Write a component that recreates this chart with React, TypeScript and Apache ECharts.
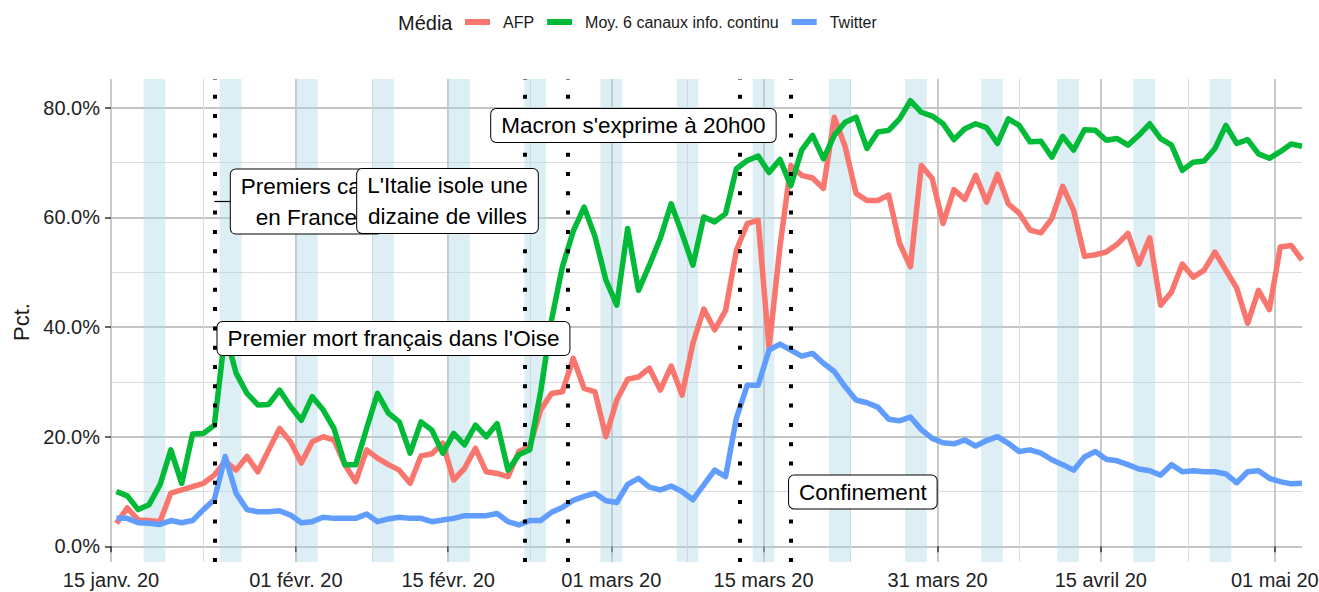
import React, { useEffect, useRef } from "react";
import * as echarts from "echarts";

// ---- data -------------------------------------------------------------
const startDate = "2020-01-15"; // first day of the series (points drawn at noon)

const afp = [
  4.2, 7.0, 4.8, 4.7, 4.5, 9.7, 10.3, 10.9, 11.5, 13.0,
  15.5, 13.9, 16.4, 13.6, 17.6, 21.5, 19.1, 15.2, 19.1, 20.0,
  19.4, 14.9, 11.8, 17.6, 16.1, 14.9, 13.9, 11.5, 16.5, 16.9,
  18.8, 12.1, 14.2, 17.9, 13.6, 13.3, 12.7, 17.3, 18.2, 24.9,
  27.9, 28.2, 34.3, 28.8, 28.2, 20.0, 26.7, 30.5, 30.9, 32.5,
  28.5, 32.9, 27.6, 37.0, 43.3, 39.5, 43.0, 54.0, 58.9, 59.5,
  36.2, 54.6, 69.5, 67.7, 67.2, 65.3, 78.3, 72.9, 64.4, 63.1,
  63.1, 64.1, 55.3, 51.0, 69.5, 67.1, 58.9, 65.1, 63.3, 67.7,
  62.8, 67.9, 62.5, 60.8, 57.7, 57.2, 59.8, 65.7, 61.3, 52.9,
  53.2, 53.7, 55.1, 57.1, 51.5, 56.3, 44.0, 46.4, 51.5, 49.1,
  50.4, 53.7, 50.4, 47.1, 40.7, 46.7, 43.2, 54.6, 54.9, 52.2,
];

const infoContinu = [
  10.0, 9.2, 6.7, 7.6, 11.2, 17.6, 11.5, 20.5, 20.6, 22.1,
  39.0, 31.6, 27.9, 25.8, 25.9, 28.5, 25.5, 23.0, 27.3, 24.9,
  21.5, 14.9, 14.9, 21.5, 27.9, 24.3, 22.7, 17.0, 22.7, 21.2,
  17.0, 20.6, 18.5, 22.1, 20.0, 22.4, 13.9, 16.7, 17.6, 28.2,
  41.3, 51.0, 57.5, 61.9, 56.5, 48.6, 44.0, 58.0, 46.7, 51.3,
  56.2, 62.5, 57.1, 51.3, 60.1, 59.2, 60.7, 68.9, 70.4, 71.2,
  68.2, 70.6, 65.8, 72.3, 75.0, 70.7, 75.0, 77.4, 78.3, 72.6,
  75.6, 75.9, 78.0, 81.3, 79.2, 78.5, 77.1, 74.2, 76.2, 77.1,
  76.4, 73.5, 78.0, 76.8, 73.8, 73.9, 71.0, 74.8, 72.3, 76.0,
  75.9, 74.1, 74.4, 73.2, 75.0, 77.1, 74.4, 73.2, 68.6, 70.1,
  70.3, 72.6, 76.8, 73.5, 74.2, 71.6, 70.8, 72.0, 73.4, 73.0,
];

const twitter = [
  5.1, 5.1, 4.3, 4.2, 4.0, 4.7, 4.3, 4.7, 6.7, 8.5,
  16.4, 9.7, 6.7, 6.3, 6.3, 6.5, 5.7, 4.3, 4.5, 5.3,
  5.1, 5.1, 5.1, 5.9, 4.5, 5.0, 5.3, 5.1, 5.1, 4.5,
  4.8, 5.1, 5.6, 5.6, 5.6, 6.0, 4.5, 3.9, 4.7, 4.7,
  6.2, 7.1, 8.4, 9.1, 9.7, 8.3, 8.0, 11.3, 12.4, 10.8,
  10.3, 11.0, 10.0, 8.5, 11.2, 13.9, 12.7, 23.4, 29.4, 29.4,
  35.8, 36.9, 35.8, 34.7, 35.2, 33.4, 31.9, 29.1, 26.7, 26.2,
  25.4, 23.2, 22.9, 23.6, 21.3, 19.7, 18.9, 18.7, 19.4, 18.3,
  19.3, 20.0, 18.8, 17.3, 17.6, 17.0, 15.8, 14.9, 13.9, 16.3,
  17.3, 15.9, 15.6, 14.9, 14.1, 13.8, 13.0, 14.9, 13.6, 13.8,
  13.6, 13.6, 13.2, 11.6, 13.6, 13.8, 12.4, 11.8, 11.4, 11.5,
];

const seriesNames = ["AFP", "Moy. 6 canaux info. continu", "Twitter"];
const seriesColors = ["#F8766D", "#00BA38", "#619CFF"];

const tickDates = [
  "2020-01-15", "2020-02-01", "2020-02-15", "2020-03-01",
  "2020-03-15", "2020-03-31", "2020-04-15", "2020-05-01",
];
const tickLabels = [
  "15 janv. 20", "01 févr. 20", "15 févr. 20", "01 mars 20",
  "15 mars 20", "31 mars 20", "15 avril 20", "01 mai 20",
];
const yTicks = [0, 20, 40, 60, 80];
const yMinorTicks = [10, 30, 50, 70];

const weekendStarts = [
  "2020-01-18", "2020-01-25", "2020-02-01", "2020-02-08", "2020-02-15",
  "2020-02-22", "2020-02-29", "2020-03-07", "2020-03-14", "2020-03-21",
  "2020-03-28", "2020-04-04", "2020-04-11", "2020-04-18", "2020-04-25",
];

const eventTimes = [
  "2020-01-24T12:00:00",
  "2020-02-22T00:00:00",
  "2020-02-26T00:00:00",
  "2020-03-12T20:00:00",
  "2020-03-17T12:00:00",
];

// annotation boxes: text and centre (date, percent)
const annotationTexts = [
  "Premiers cas\nen France",
  "L'Italie isole une\ndizaine de villes",
  "Macron s'exprime à 20h00",
  "Premier mort français dans l'Oise",
  "Confinement",
];
const annotationDates = [
  "2020-02-01T23:15:00",
  "2020-02-14T22:30:00",
  "2020-03-03T00:45:00",
  "2020-02-09T23:15:00",
  "2020-03-24T03:00:00",
];
const annotationValues = [62.9, 63.0, 76.8, 37.9, 9.9];

// ---- helpers ----------------------------------------------------------
const START_MS = Date.parse(startDate + "T00:00:00Z");
const dayOf = (s: string) =>
  (Date.parse((s.length <= 10 ? s + "T00:00:00" : s) + "Z") - START_MS) / 86400000;

const tickDays = tickDates.map(dayOf);
const minorXTicks = tickDays.slice(1).map((d, i) => (d + tickDays[i]) / 2);
const toPoints = (arr: number[]) => arr.map((v, i) => [i + 0.5, v]);

const FONT = "'Liberation Sans', Arial, Helvetica, sans-serif";
const X_MAX = 109.5;
const Y_MIN = -2.86;
const Y_MAX = 85.27;

export default function App() {
  const ref = useRef<HTMLDivElement>(null);

  useEffect(() => {
    document.body.style.margin = "0";
    if (!ref.current) return;
    const chart = echarts.init(ref.current, null, { renderer: "svg" });

    const lineSeries = [afp, infoContinu, twitter].map((arr, k) => ({
      type: "line",
      name: seriesNames[k],
      data: toPoints(arr),
      showSymbol: false,
      symbol: "none",
      z: 3,
      silent: true,
      itemStyle: { color: seriesColors[k] },
      lineStyle: { color: seriesColors[k], width: 5.5, join: "round", cap: "butt" },
    }));

    const option: any = {
      animation: false,
      textStyle: { fontFamily: FONT },
      grid: {
        left: 111,
        right: 17,
        top: 79,
        bottom: 30,
        containLabel: false,
        outerBoundsMode: "none",
      },
      legend: {
        data: seriesNames,
        left: 465,
        top: 14,
        padding: 0,
        icon: "rect",
        itemWidth: 25,
        itemHeight: 6,
        itemGap: 13,
        selectedMode: false,
        textStyle: { fontSize: 16, color: "#1a1a1a", fontFamily: FONT, padding: [0, 0, 0, 8] },
      },
      graphic: [
        {
          type: "text",
          left: 398,
          top: 13,
          style: { text: "Média", font: `20px ${FONT}`, fill: "#1a1a1a" },
        },
        {
          type: "text",
          x: 21,
          y: 322,
          rotation: Math.PI / 2,
          style: {
            text: "Pct.",
            font: `22px ${FONT}`,
            fill: "#1a1a1a",
            align: "center",
            verticalAlign: "middle",
          },
        },
      ],
      xAxis: [
        {
          type: "value",
          min: 0,
          max: X_MAX,
          axisLine: { show: false },
          axisTick: {
            show: true,
            length: 6,
            customValues: tickDays,
            lineStyle: { color: "#333", width: 1.5 },
          },
          axisLabel: {
            customValues: tickDays,
            fontSize: 20,
            color: "#222",
            margin: 8,
            hideOverlap: false,
            formatter: (v: number) => {
              const k = tickDays.findIndex((d) => Math.abs(d - v) < 1e-6);
              return k >= 0 ? tickLabels[k] : "";
            },
          },
          splitLine: { show: true, lineStyle: { color: "#c4c4c4", width: 1.8 } },
        },
        {
          type: "value",
          min: 0,
          max: X_MAX,
          position: "bottom",
          axisLine: { show: false },
          axisTick: { show: false, customValues: minorXTicks },
          axisLabel: { show: false, customValues: minorXTicks },
          splitLine: { show: true, lineStyle: { color: "#dcdcdc", width: 1 } },
        },
      ],
      yAxis: [
        {
          type: "value",
          min: Y_MIN,
          max: Y_MAX,
          axisLine: { show: false },
          axisTick: {
            show: true,
            length: 6,
            customValues: yTicks,
            lineStyle: { color: "#333", width: 1.5 },
          },
          axisLabel: {
            customValues: yTicks,
            fontSize: 20,
            color: "#222",
            margin: 11,
            formatter: (v: number) => v.toFixed(1) + "%",
          },
          splitLine: { show: true, lineStyle: { color: "#c4c4c4", width: 1.8 } },
        },
        {
          type: "value",
          min: Y_MIN,
          max: Y_MAX,
          axisLine: { show: false },
          axisTick: { show: false, customValues: yMinorTicks },
          axisLabel: { show: false, customValues: yMinorTicks },
          splitLine: { show: true, lineStyle: { color: "#dcdcdc", width: 1 } },
        },
      ],
      series: [
        {
          type: "line",
          name: "_weekends",
          data: [],
          z: 1,
          silent: true,
          markArea: {
            silent: true,
            itemStyle: { color: "rgba(173,216,230,0.42)" },
            data: weekendStarts.map((s) => {
              const d = dayOf(s);
              return [{ xAxis: d }, { xAxis: d + 2 }];
            }),
          },
        },
        ...lineSeries,
        {
          type: "line",
          name: "_events",
          data: [],
          z: 5,
          silent: true,
          markLine: {
            silent: true,
            symbol: ["none", "none"],
            label: { show: false },
            lineStyle: { color: "#000", type: [4, 15.3], width: 4, cap: "butt" },
            emphasis: { disabled: true },
            data: eventTimes.map((t) => ({ xAxis: dayOf(t) })),
          },
        },
        {
          type: "line",
          name: "_labels",
          data: [],
          z: 6,
          silent: true,
          markLine: {
            silent: true,
            symbol: ["none", "none"],
            label: { show: false },
            lineStyle: { color: "#000", type: "solid", width: 1.2 },
            emphasis: { disabled: true },
            data: [
              [
                { coord: [dayOf(eventTimes[0]), annotationValues[0]] },
                { coord: [dayOf("2020-01-26T02:55:00"), annotationValues[0]] },
              ],
            ],
          },
          markPoint: {
            silent: true,
            symbol: "rect",
            symbolSize: 1,
            itemStyle: { color: "rgba(0,0,0,0)" },
            emphasis: { disabled: true },
            label: {
              show: true,
              position: "inside",
              formatter: "{b}",
              fontSize: 22.5,
              lineHeight: 31,
              fontFamily: FONT,
              color: "#000",
              align: "center",
              backgroundColor: "#fff",
              borderColor: "#000",
              borderWidth: 1,
              borderRadius: 5,
              padding: [1, 10],
            },
            data: annotationTexts.map((t, k) => ({
              name: t,
              coord: [dayOf(annotationDates[k]), annotationValues[k]],
            })),
          },
        },
      ],
    };

    chart.setOption(option);
    return () => chart.dispose();
  }, []);

  return <div ref={ref} style={{ width: 1319, height: 592 }} />;
}
